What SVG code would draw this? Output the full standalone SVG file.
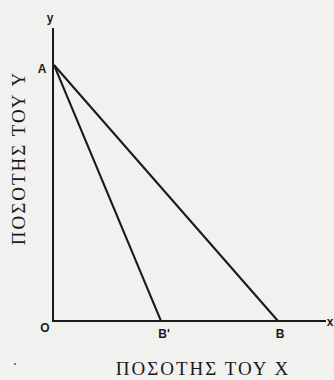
<svg xmlns="http://www.w3.org/2000/svg" width="334" height="380" viewBox="0 0 334 380">
<style>
.ax{stroke:#1a1a1a;stroke-width:2;fill:none}
.ln{stroke:#1a1a1a;stroke-width:2;fill:none}
.lb{font-family:"Liberation Sans",Arial,sans-serif;font-size:12px;font-weight:bold;fill:#1a1a1a}
.tt{font-family:"Liberation Serif","Times New Roman",serif;font-size:19px;letter-spacing:2px;fill:#1a1a1a}
</style>
<rect width="334" height="380" fill="#f1f1ef"/>
<g id="connectors">
<line class="ax" x1="53" y1="28" x2="53" y2="322"/>
<line class="ax" x1="52" y1="321" x2="326" y2="321"/>
<line class="ln" x1="54" y1="65" x2="161" y2="321"/>
<line class="ln" x1="54" y1="65" x2="278" y2="321"/>
</g>
<g id="labels">
<text class="lb" x="50" y="22" text-anchor="middle">y</text>
<text class="lb" x="330" y="326" text-anchor="middle">x</text>
<text class="lb" x="42" y="73" text-anchor="middle">A</text>
<text class="lb" x="45" y="332" text-anchor="middle">O</text>
<text class="lb" x="164" y="338" text-anchor="middle">B'</text>
<text class="lb" x="280" y="338" text-anchor="middle">B</text>
</g>
<g id="titles">
<text class="tt" x="203" y="375" text-anchor="middle">ΠΟΣΟΤΗΣ ΤΟΥ X</text>
<text class="tt" transform="translate(25,158) rotate(-90)" text-anchor="middle">ΠΟΣΟΤΗΣ ΤΟΥ Y</text>
<circle cx="15" cy="364" r="1" fill="#555"/>
</g>
</svg>
